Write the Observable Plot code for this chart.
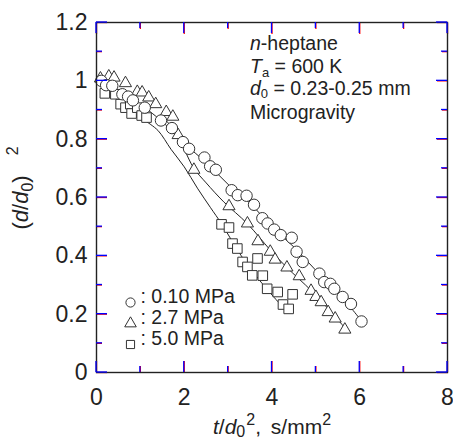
<!DOCTYPE html>
<html><head><meta charset="utf-8">
<script src="https://cdn.jsdelivr.net/npm/d3@7"></script>
<script src="https://cdn.jsdelivr.net/npm/@observablehq/plot@0.6"></script>
<style>body{margin:0;background:#fff;} #chart{width:453px;height:441px;}</style>
</head><body><div id="chart"></div>
<script>
const FONT = "'Liberation Sans', Arial, sans-serif";
// tick values
const xMajor = [0, 2, 4, 6, 8];
const xMinor = [1, 3, 5, 7];
const yMajor = [0, 0.2, 0.4, 0.6, 0.8, 1, 1.2];
const yMinor = [0.1, 0.3, 0.5, 0.7, 0.9, 1.1];
// series: 0.10 MPa (circles)
const circleT = [0.11,0.22,0.36,0.59,0.72,0.83,1.10,1.47,1.72,1.97,2.11,2.46,2.59,2.72,3.08,3.22,3.42,3.59,3.78,3.90,4.05,4.20,4.45,4.56,4.70,5.08,5.19,5.33,5.42,5.61,5.80,6.04];
const circleD = [1.00,0.985,0.983,0.954,0.946,0.933,0.908,0.864,0.838,0.79,0.767,0.737,0.707,0.695,0.625,0.608,0.606,0.575,0.529,0.511,0.49,0.471,0.462,0.414,0.379,0.339,0.31,0.304,0.287,0.259,0.235,0.175];
// series: 2.7 MPa (triangles)
const triT = [0.09,0.28,0.40,0.66,0.93,1.04,1.19,1.35,1.59,1.74,1.86,2.22,3.02,3.44,3.68,3.96,4.07,4.34,4.62,4.89,5.0,5.12,5.28,5.44,5.66];
const triD = [1.008,1.015,1.011,0.992,0.962,0.96,0.943,0.92,0.893,0.877,0.814,0.695,0.57,0.511,0.45,0.414,0.387,0.36,0.33,0.28,0.259,0.241,0.207,0.185,0.147];
// series: 5.0 MPa (squares)
const sqT = [0.19,0.43,0.55,0.66,0.77,0.80,0.93,1.03,1.14,2.85,3.02,3.10,3.21,3.33,3.44,3.55,3.67,3.79,3.89,4.13,4.25,4.38,4.47];
const sqD = [0.957,0.954,0.92,0.908,0.92,0.888,0.908,0.881,0.874,0.508,0.497,0.442,0.425,0.379,0.362,0.333,0.391,0.332,0.287,0.276,0.233,0.218,0.268];
// fitted curves
const circleFitT = [1.0,1.5,2.0,2.5,3.0,3.5,4.0,4.5,5.0,5.5,6.05];
const circleFitD = [0.92,0.86,0.785,0.72,0.645,0.58,0.50,0.43,0.35,0.275,0.175];
const triFitT = [1.55,1.8,2.0,2.22,2.5,2.9,3.44,3.96,4.34,4.9,5.3,5.68];
const triFitD = [0.87,0.825,0.765,0.70,0.65,0.585,0.51,0.42,0.36,0.28,0.215,0.15];
const sqFitT = [1.12,1.4,1.7,2.0,2.3,2.6,2.85,3.3,3.75,4.3];
const sqFitD = [0.862,0.83,0.765,0.705,0.632,0.565,0.51,0.40,0.31,0.215];
// legend
const legendLabels = [": 0.10 MPa", ": 2.7 MPa", ": 5.0 MPa"];
const legendSymbols = ["circle", "triangle", "square"];

const MAJ = 11, MIN = 6;
const pts = (xs, ys) => xs.map((x, i) => ({x, y: ys[i]}));
const INK = "#222";
const legendDy = [-70, -49, -28];
const legendR = [4.6, 4.3, 4.6];
const noText = () => "";
// inward ticks drawn by Plot's own axis marks (negative tick size points inward)
const inTicks = [
  Plot.axisX(xMajor, {anchor: "bottom", tickSize: -MAJ, tickFormat: noText, label: null, stroke: "red", strokeWidth: 1.3}),
  Plot.axisX(xMinor, {anchor: "bottom", tickSize: -MIN, tickFormat: noText, label: null, stroke: "red", strokeWidth: 1.3}),
  Plot.axisX(xMajor, {anchor: "top", tickSize: -MAJ, tickFormat: noText, label: null, stroke: "red", strokeWidth: 1.3}),
  Plot.axisX(xMinor, {anchor: "top", tickSize: -MIN, tickFormat: noText, label: null, stroke: "red", strokeWidth: 1.3}),
  Plot.axisY(yMajor, {anchor: "left", tickSize: -MAJ, tickFormat: noText, label: null, stroke: "red", strokeWidth: 1.3}),
  Plot.axisY(yMinor, {anchor: "left", tickSize: -MIN, tickFormat: noText, label: null, stroke: "red", strokeWidth: 1.3}),
  Plot.axisY(yMajor, {anchor: "right", tickSize: -MAJ, tickFormat: noText, label: null, stroke: "red", strokeWidth: 1.3}),
  Plot.axisY(yMinor, {anchor: "right", tickSize: -MIN, tickFormat: noText, label: null, stroke: "red", strokeWidth: 1.3})
];

const plot = Plot.plot({
  width: 453, height: 441,
  marginLeft: 96, marginRight: 6, marginTop: 22, marginBottom: 69,
  style: {fontFamily: FONT},
  x: {domain: [0, 8]},
  y: {domain: [0, 1.2]},
  marks: [
    ...inTicks,
    Plot.line(pts(sqFitT, sqFitD), {x: "x", y: "y", curve: "catmull-rom", stroke: INK, strokeWidth: 1}),
    Plot.line(pts(triFitT, triFitD), {x: "x", y: "y", curve: "catmull-rom", stroke: INK, strokeWidth: 1}),
    Plot.line(pts(circleFitT, circleFitD), {x: "x", y: "y", curve: "catmull-rom", stroke: INK, strokeWidth: 1}),
    Plot.dot(pts(sqT, sqD), {x: "x", y: "y", symbol: "square", r: 5.4, stroke: "#333", fill: "white", strokeWidth: 1}),
    Plot.dot(pts(triT, triD), {x: "x", y: "y", symbol: "triangle", r: 4.5, stroke: "#333", fill: "white", strokeWidth: 1}),
    Plot.dot(pts(circleT, circleD), {x: "x", y: "y", symbol: "circle", r: 5.7, stroke: "#333", fill: "white", strokeWidth: 1}),
    // tick labels
    Plot.axisX(xMajor, {anchor: "bottom", tickSize: 0, tickPadding: 16, fontSize: 23, label: null, tickFormat: d => String(d), fill: INK}),
    Plot.axisY(yMajor, {anchor: "left", tickSize: 0, tickPadding: 9, fontSize: 23, label: null, tickFormat: d => String(d), fill: INK}),
    Plot.frame({stroke: INK, strokeWidth: 1.4}),
    // legend
    ...legendLabels.map((lab, i) => Plot.dot([lab], {frameAnchor: "bottom-left", dx: 34, dy: legendDy[i], symbol: legendSymbols[i], r: legendR[i], stroke: "#333", fill: "white", strokeWidth: 1})),
    ...legendLabels.map((lab, i) => Plot.text([lab], {frameAnchor: "bottom-left", dx: 44, dy: legendDy[i], text: d => d, textAnchor: "start", fontSize: 19.5, fill: INK}))
  ]
});
document.getElementById("chart").appendChild(plot);

const svg = d3.select(plot);
// second copy of the inward ticks, placed with Plot's own scales, drawn on top
const sx = plot.scale("x"), sy = plot.scale("y");
const X0 = sx.apply(0), X1 = sx.apply(8), Y0 = sy.apply(0), Y1 = sy.apply(1.2);
const seg = (a, b, c, d) => svg.append("line").attr("x1", a).attr("y1", b).attr("x2", c).attr("y2", d)
  .attr("stroke", "blue").attr("stroke-width", 1.3);
[[xMajor, MAJ], [xMinor, MIN]].forEach(([vals, len]) => vals.forEach(v => {
  const p = sx.apply(v);
  seg(p, Y0, p, Y0 - len); seg(p, Y1, p, Y1 + len);
}));
[[yMajor, MAJ], [yMinor, MIN]].forEach(([vals, len]) => vals.forEach(v => {
  const p = sy.apply(v);
  seg(X0, p, X0 + len, p); seg(X1, p, X1 - len, p);
}));

// rich text helper (italic, sub/superscript)
function rich(x, y, parts, size, anchor, transform) {
  const t = svg.append("text")
    .attr("font-family", FONT).attr("font-size", size).attr("fill", INK)
    .attr("text-anchor", anchor || "start");
  if (transform) t.attr("transform", transform); else t.attr("x", x).attr("y", y);
  let cur = 0;
  parts.forEach(p => {
    const shift = p.shift || 0;
    const ts = t.append("tspan").text(p.t).attr("dy", shift - cur);
    cur = shift;
    if (p.dx) ts.attr("dx", p.dx);
    if (p.i) ts.attr("font-style", "italic");
    if (p.s) ts.attr("font-size", p.s);
  });
  return t;
}
const A = 19.5;
rich(250, 50, [{t: "n", i: true}, {t: "-heptane"}], A);
rich(250, 72.5, [{t: "T", i: true}, {t: "a", s: 13, shift: 4}, {t: " = 600 K", shift: 0}], A);
rich(250, 95, [{t: "d", i: true}, {t: "0", s: 13, shift: 3}, {t: " = 0.23-0.25 mm", shift: 0}], A);
rich(250, 118.5, [{t: "Microgravity"}], A);
// axis titles
rich(0, 0, [{t: "("}, {t: "d", i: true}, {t: "/"}, {t: "d", i: true}, {t: "0", s: 16, shift: 5}, {t: ")", shift: 0}, {t: "2", s: 16, shift: -10, dx: 20}], 22, "middle", "translate(28,188) rotate(-90)");
rich(272, 434, [{t: "t", i: true}, {t: "/"}, {t: "d", i: true}, {t: "0", s: 16, shift: 3}, {t: "2", s: 16, shift: -9, dx: 1}, {t: ", ", shift: 0}, {t: "s/mm", dx: 4}, {t: "2", s: 16, shift: -9}], 21, "middle");
</script>
</body></html>
